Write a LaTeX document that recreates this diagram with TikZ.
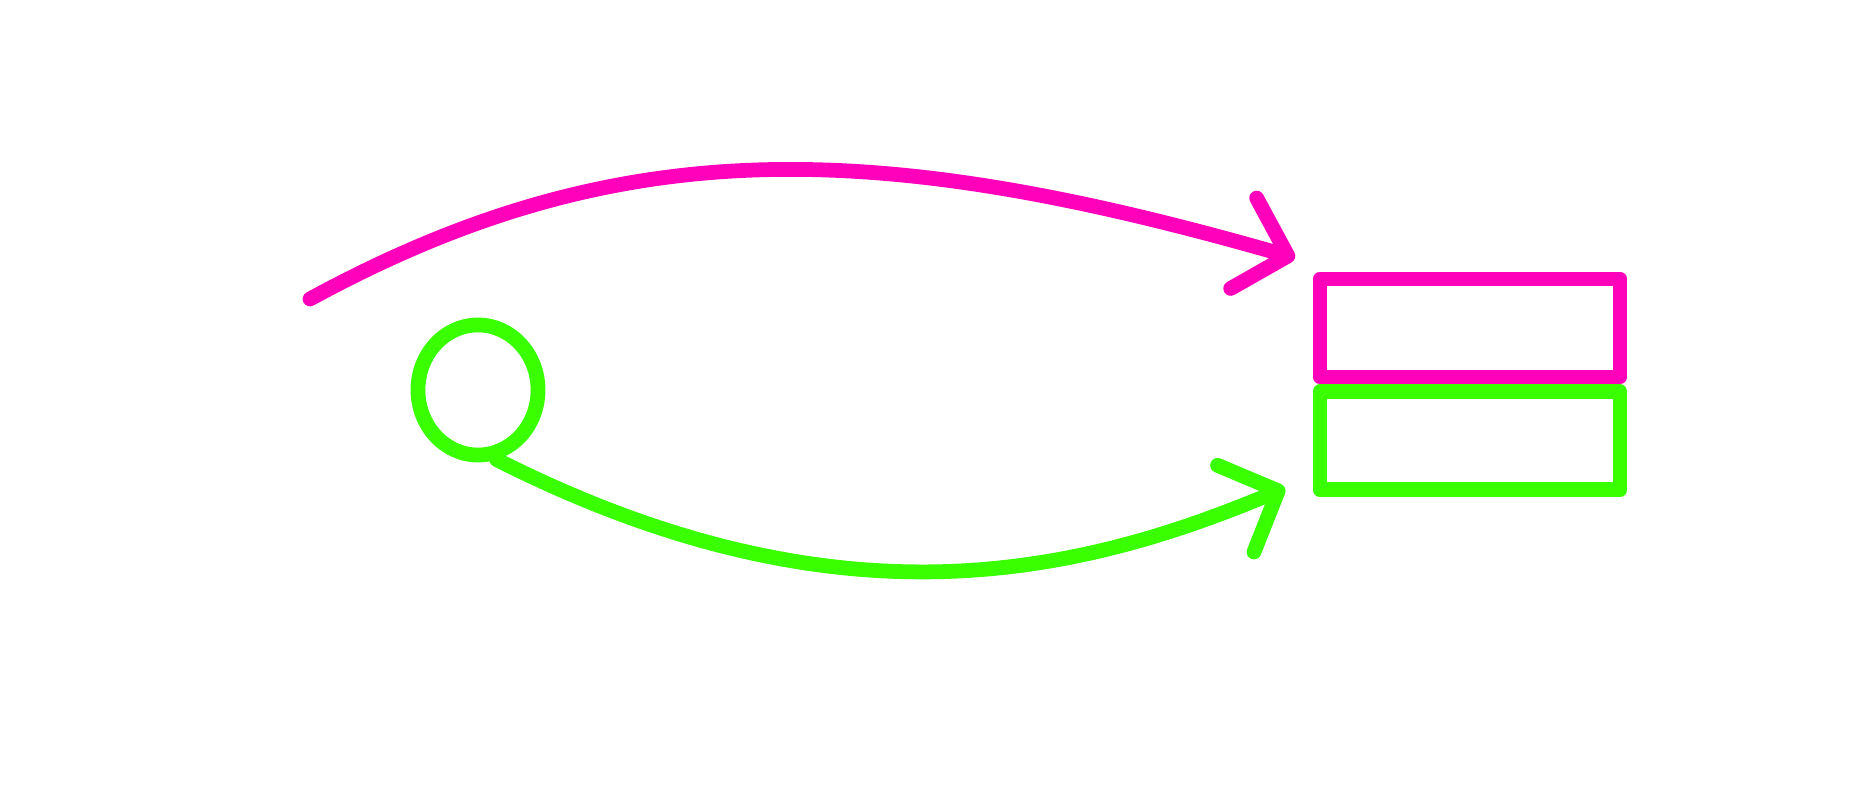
\documentclass[tikz,border=0pt]{standalone}
\usetikzlibrary{arrows.meta, positioning, shapes.geometric}
\definecolor{pinkline}{HTML}{FF00BB}
\definecolor{limeline}{HTML}{39FF00}

\begin{document}
\begin{tikzpicture}[x=0.01cm, y=-0.01cm,
  slot/.style={draw, line width=4.2pt, line join=round, minimum width=3cm,
               minimum height=0.98cm, inner sep=0pt},
  ring/.style={draw, ellipse, line width=4.2pt, minimum width=1.2cm,
               minimum height=1.3cm, inner sep=0pt},
  arr/.style={-{Straight Barb[length=4.6mm, width=9.4mm, round]},
              line width=4.2pt, line cap=round}
]
\useasboundingbox (0,0) rectangle (1872,792);
\node[slot, pinkline] (upper) at (1470,328) {};
\node[slot, limeline, below=0pt of upper] (lower) {};
\node[ring, limeline] (loop) at (478,390) {};
\coordinate (start) at (310,299);
\coordinate (pinktip) at (1295,258);
\coordinate (limetip) at (1285,488);
\draw[arr, pinkline] (start) .. controls (615,133) and (870,136) .. (pinktip);
\draw[arr, limeline] (loop.-75) .. controls (834,630) and (1073,577) .. (limetip);
\end{tikzpicture}
\end{document}
